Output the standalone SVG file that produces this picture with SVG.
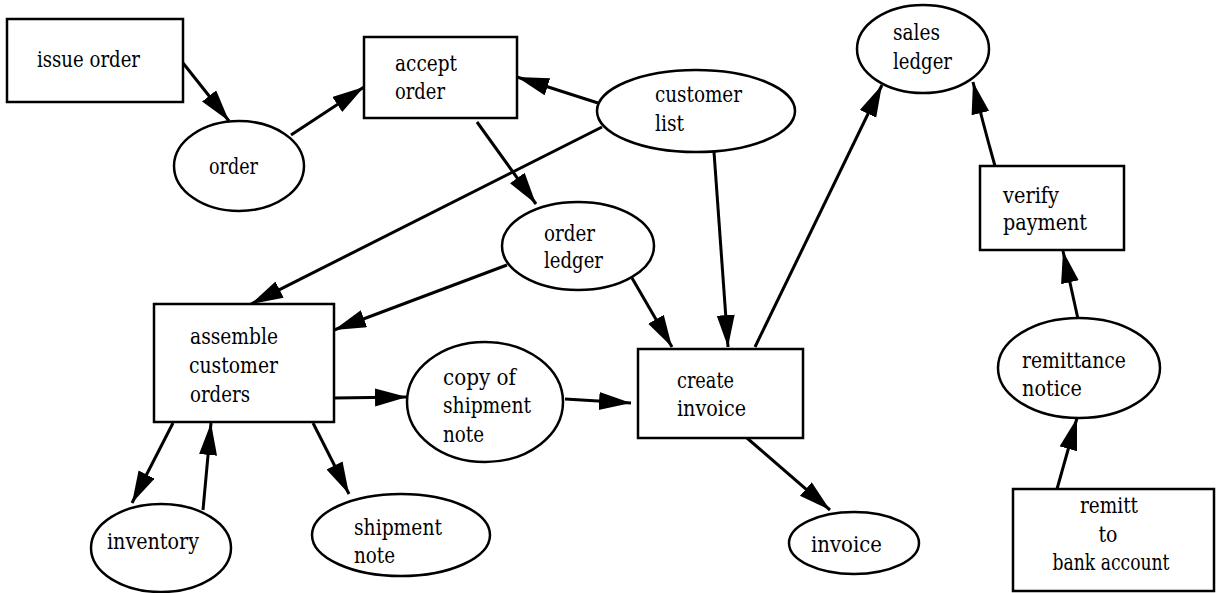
<svg xmlns="http://www.w3.org/2000/svg" width="1217" height="593" viewBox="0 0 1217 593">
  <defs>
    <style>
      .box { fill: #fff; stroke: #000; stroke-width: 2.5; }
      .store { fill: #fff; stroke: #000; stroke-width: 2.5; }
      text { font-family: 'DejaVu Serif', 'Liberation Serif', serif; font-size: 21.5px; fill: #000; }
      .mid { text-anchor: middle; }
      .edge { fill: none; stroke: #000; stroke-width: 3; marker-end: url(#head); }
    </style>
    <marker id="head" markerUnits="userSpaceOnUse" markerWidth="34" markerHeight="20" refX="32" refY="9" orient="auto">
      <path d="M0,0 L32,9 L0,18 Z" fill="#000"/>
    </marker>
  </defs>
  <rect width="1217" height="593" fill="#fff"/>

  <!-- data flows -->
  <g id="connectors">
    <line class="edge" x1="183" y1="63" x2="229" y2="121"/>
    <line class="edge" x1="291" y1="135" x2="364" y2="87"/>
    <line class="edge" x1="598" y1="103" x2="517" y2="77"/>
    <line class="edge" x1="477" y1="122" x2="536" y2="204"/>
    <line class="edge" x1="602" y1="127" x2="251" y2="304"/>
    <line class="edge" x1="714" y1="152" x2="728" y2="347"/>
    <line class="edge" x1="507" y1="265" x2="334" y2="330"/>
    <line class="edge" x1="632" y1="278" x2="672" y2="347"/>
    <line class="edge" x1="755" y1="347" x2="882" y2="85"/>
    <path class="edge" d="M995,166 Q982,120 973,82"/>
    <line class="edge" x1="1078" y1="319" x2="1063" y2="251"/>
    <line class="edge" x1="1057" y1="489" x2="1077" y2="418"/>
    <line class="edge" x1="334" y1="398" x2="407" y2="397"/>
    <line class="edge" x1="565" y1="399" x2="631" y2="403"/>
    <line class="edge" x1="747" y1="438" x2="830" y2="510"/>
    <line class="edge" x1="173" y1="423" x2="132" y2="503"/>
    <line class="edge" x1="203" y1="510" x2="211" y2="423"/>
    <line class="edge" x1="313" y1="423" x2="349" y2="494"/>
  </g>

  <!-- processes -->
  <g id="issue-order">
    <rect class="box" x="7" y="19" width="176" height="83"/>
    <text x="37" y="67" textLength="103" lengthAdjust="spacingAndGlyphs">issue order</text>
  </g>
  <g id="accept-order">
    <rect class="box" x="364" y="37" width="153" height="81"/>
    <text x="395" y="71" textLength="62" lengthAdjust="spacingAndGlyphs">accept</text>
    <text x="395" y="99" textLength="50" lengthAdjust="spacingAndGlyphs">order</text>
  </g>
  <g id="verify-payment">
    <rect class="box" x="980" y="166" width="144" height="84"/>
    <text x="1003" y="203" textLength="56" lengthAdjust="spacingAndGlyphs">verify</text>
    <text x="1003" y="230" textLength="84" lengthAdjust="spacingAndGlyphs">payment</text>
  </g>
  <g id="assemble-customer-orders">
    <rect class="box" x="154" y="304" width="180" height="118"/>
    <text x="190" y="344" textLength="88" lengthAdjust="spacingAndGlyphs">assemble</text>
    <text x="189" y="373" textLength="89" lengthAdjust="spacingAndGlyphs">customer</text>
    <text x="190" y="402" textLength="60" lengthAdjust="spacingAndGlyphs">orders</text>
  </g>
  <g id="create-invoice">
    <rect class="box" x="638" y="349" width="165" height="89"/>
    <text x="677" y="388" textLength="57" lengthAdjust="spacingAndGlyphs">create</text>
    <text x="677" y="416" textLength="69" lengthAdjust="spacingAndGlyphs">invoice</text>
  </g>
  <g id="remitt-to-bank-account">
    <rect class="box" x="1013" y="489" width="201" height="102"/>
    <text class="mid" x="1109" y="513" textLength="58" lengthAdjust="spacingAndGlyphs">remitt</text>
    <text class="mid" x="1108" y="542" textLength="19" lengthAdjust="spacingAndGlyphs">to</text>
    <text class="mid" x="1111" y="570" textLength="117" lengthAdjust="spacingAndGlyphs">bank account</text>
  </g>

  <!-- data stores -->
  <g id="order">
    <ellipse class="store" cx="239" cy="166" rx="65" ry="45"/>
    <text x="209" y="174" textLength="49" lengthAdjust="spacingAndGlyphs">order</text>
  </g>
  <g id="customer-list">
    <ellipse class="store" cx="696" cy="111" rx="99" ry="41"/>
    <text x="655" y="102" textLength="87" lengthAdjust="spacingAndGlyphs">customer</text>
    <text x="655" y="131" textLength="29" lengthAdjust="spacingAndGlyphs">list</text>
  </g>
  <g id="sales-ledger">
    <ellipse class="store" cx="923" cy="49" rx="66" ry="44"/>
    <text x="893" y="40" textLength="47" lengthAdjust="spacingAndGlyphs">sales</text>
    <text x="893" y="69" textLength="59" lengthAdjust="spacingAndGlyphs">ledger</text>
  </g>
  <g id="order-ledger">
    <ellipse class="store" cx="578" cy="246" rx="76" ry="44"/>
    <text x="544" y="241" textLength="51" lengthAdjust="spacingAndGlyphs">order</text>
    <text x="544" y="268" textLength="59" lengthAdjust="spacingAndGlyphs">ledger</text>
  </g>
  <g id="copy-of-shipment-note">
    <ellipse class="store" cx="485" cy="402" rx="78" ry="60"/>
    <text x="443" y="385" textLength="73" lengthAdjust="spacingAndGlyphs">copy of</text>
    <text x="443" y="413" textLength="88" lengthAdjust="spacingAndGlyphs">shipment</text>
    <text x="443" y="442" textLength="41" lengthAdjust="spacingAndGlyphs">note</text>
  </g>
  <g id="remittance-notice">
    <ellipse class="store" cx="1079" cy="368" rx="81" ry="50"/>
    <text x="1022" y="368" textLength="104" lengthAdjust="spacingAndGlyphs">remittance</text>
    <text x="1022" y="396" textLength="60" lengthAdjust="spacingAndGlyphs">notice</text>
  </g>
  <g id="inventory">
    <ellipse class="store" cx="161" cy="548" rx="70" ry="44"/>
    <text x="107" y="549" textLength="92" lengthAdjust="spacingAndGlyphs">inventory</text>
  </g>
  <g id="shipment-note">
    <ellipse class="store" cx="401" cy="535" rx="89" ry="41"/>
    <text x="354" y="535" textLength="88" lengthAdjust="spacingAndGlyphs">shipment</text>
    <text x="354" y="563" textLength="41" lengthAdjust="spacingAndGlyphs">note</text>
  </g>
  <g id="invoice">
    <ellipse class="store" cx="854" cy="543" rx="65" ry="31"/>
    <text x="811" y="552" textLength="71" lengthAdjust="spacingAndGlyphs">invoice</text>
  </g>
</svg>
